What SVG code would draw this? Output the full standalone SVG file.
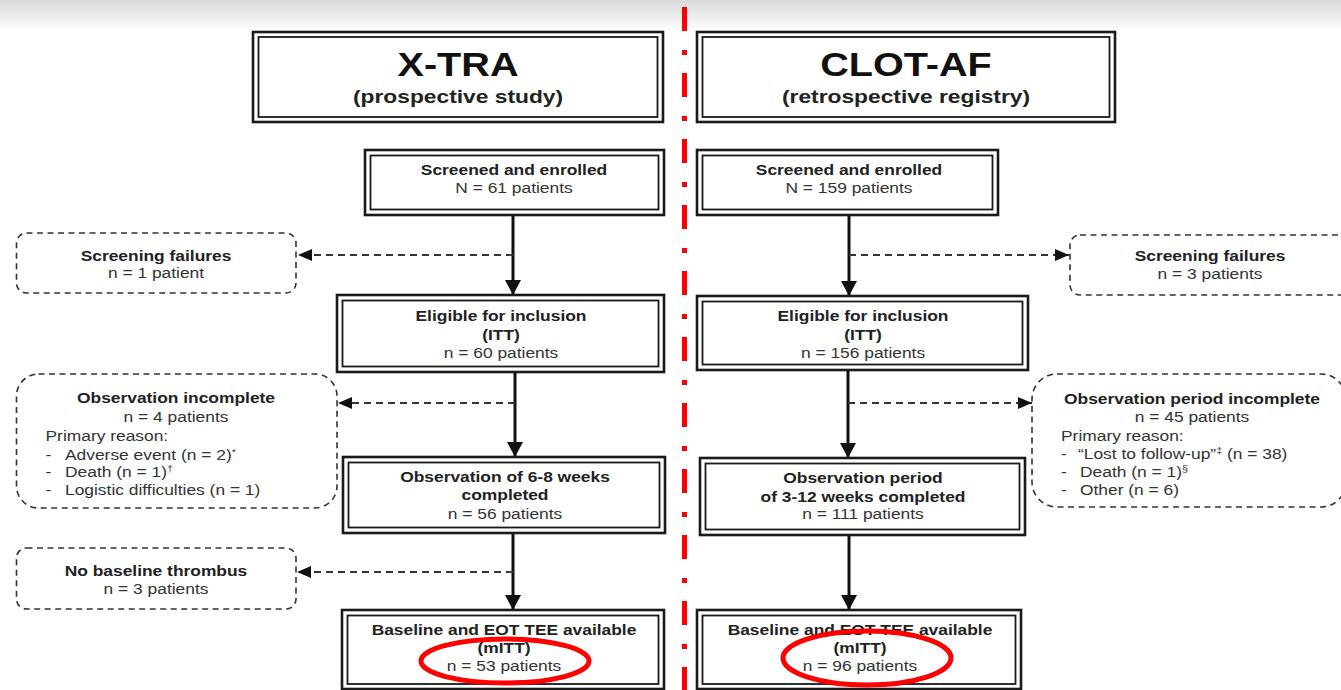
<svg xmlns="http://www.w3.org/2000/svg" width="1341" height="690" viewBox="0 0 1341 690">
<style>
.o{fill:#fff;stroke:#1a1a1a;stroke-width:2.6}
.i{fill:none;stroke:#1a1a1a;stroke-width:1.8}
.d{fill:#fff;stroke:#333;stroke-width:1.6;stroke-dasharray:6 4.5}
.s{stroke:#111;stroke-width:3;fill:none}
.dl{stroke:#333;stroke-width:1.8;fill:none;stroke-dasharray:7 5}
text{font-family:"Liberation Sans",Arial,sans-serif;fill:#1a1a1a}
.h{font-size:33px;font-weight:bold;text-anchor:middle;fill:#111}
.hs{font-size:19px;font-weight:bold;text-anchor:middle;fill:#222}
.b{font-size:14.5px;font-weight:bold;text-anchor:middle;fill:#222}
.r{font-size:14.5px;text-anchor:middle;fill:#333}
.l{font-size:14.5px;fill:#333}
.sup{font-size:9px}
.red{fill:none;stroke:#f00;stroke-width:5}
</style>
<defs>
<linearGradient id="shade" x1="0" y1="0" x2="0" y2="1">
<stop offset="0" stop-color="#d9d9d9"/>
<stop offset="1" stop-color="#ffffff"/>
</linearGradient>
<marker id="ah" markerUnits="userSpaceOnUse" markerWidth="18" markerHeight="18" refX="15" refY="8" orient="auto">
<path d="M0,0 L15,8 L0,16 Z" fill="#111"/>
</marker>
<marker id="ahd" markerUnits="userSpaceOnUse" markerWidth="16" markerHeight="14" refX="14" refY="6" orient="auto">
<path d="M0,0 L14,6 L0,12 Z" fill="#111"/>
</marker>
</defs>
<rect x="0" y="0" width="1341" height="690" fill="#fff"/>
<rect x="0" y="0" width="1341" height="32" fill="url(#shade)"/>
<line x1="684.5" y1="7" x2="684.5" y2="690" stroke="#f00" stroke-width="5" stroke-dasharray="24 19 5 18"/>

<g id="connectors">
<line class="s" x1="513" y1="215" x2="513" y2="295" marker-end="url(#ah)"/>
<line class="s" x1="515" y1="372" x2="515" y2="457" marker-end="url(#ah)"/>
<line class="s" x1="513" y1="533" x2="513" y2="610" marker-end="url(#ah)"/>
<line class="s" x1="849" y1="215" x2="849" y2="296" marker-end="url(#ah)"/>
<line class="s" x1="848" y1="370" x2="848" y2="458" marker-end="url(#ah)"/>
<line class="s" x1="849" y1="535" x2="849" y2="610" marker-end="url(#ah)"/>
<line class="dl" x1="513" y1="255" x2="298" y2="255" marker-end="url(#ahd)"/>
<line class="dl" x1="515" y1="403" x2="338" y2="403" marker-end="url(#ahd)"/>
<line class="dl" x1="513" y1="572" x2="297" y2="572" marker-end="url(#ahd)"/>
<line class="dl" x1="849" y1="255" x2="1069" y2="255" marker-end="url(#ahd)"/>
<line class="dl" x1="848" y1="403" x2="1032" y2="403" marker-end="url(#ahd)"/>
</g>

<g id="xtra-header">
<rect class="o" x="253" y="32" width="410" height="90"/>
<rect class="i" x="258.5" y="37" width="399" height="80"/>
<text class="h" transform="translate(458,76) scale(1.2 1)">X-TRA</text>
<text class="hs" transform="translate(458,103) scale(1.2 1)">(prospective study)</text>
</g>
<g id="clotaf-header">
<rect class="o" x="697" y="32" width="418" height="90"/>
<rect class="i" x="702.5" y="37" width="407" height="80"/>
<text class="h" transform="translate(906,76) scale(1.2 1)">CLOT-AF</text>
<text class="hs" transform="translate(906,103) scale(1.2 1)">(retrospective registry)</text>
</g>

<g id="x-screened">
<rect class="o" x="365" y="150" width="299" height="65"/>
<rect class="i" x="370.5" y="155.5" width="288" height="54"/>
<text class="b" transform="translate(514,175) scale(1.2 1)">Screened and enrolled</text>
<text class="r" transform="translate(514,193) scale(1.2 1)">N = 61 patients</text>
</g>
<g id="x-eligible">
<rect class="o" x="337" y="295" width="327" height="77"/>
<rect class="i" x="342.5" y="300.5" width="316" height="66"/>
<text class="b" transform="translate(501,321) scale(1.2 1)">Eligible for inclusion</text>
<text class="b" transform="translate(501,340) scale(1.2 1)">(ITT)</text>
<text class="r" transform="translate(501,358) scale(1.2 1)">n = 60 patients</text>
</g>
<g id="x-observation">
<rect class="o" x="343" y="457" width="322" height="76"/>
<rect class="i" x="348.5" y="462.5" width="311" height="65"/>
<text class="b" transform="translate(505,482) scale(1.2 1)">Observation of 6-8 weeks</text>
<text class="b" transform="translate(505,500) scale(1.2 1)">completed</text>
<text class="r" transform="translate(505,519) scale(1.2 1)">n = 56 patients</text>
</g>
<g id="x-baseline">
<rect class="o" x="342" y="610" width="322" height="79"/>
<rect class="i" x="347.5" y="615.5" width="311" height="68.5"/>
<text class="b" transform="translate(504,635) scale(1.2 1)">Baseline and EOT TEE available</text>
<text class="b" transform="translate(504,653) scale(1.2 1)">(mITT)</text>
<text class="r" transform="translate(504,671) scale(1.2 1)">n = 53 patients</text>
<ellipse class="red" cx="505" cy="661" rx="84" ry="22"/>
</g>

<g id="c-screened">
<rect class="o" x="697" y="150" width="301" height="65"/>
<rect class="i" x="702.5" y="155.5" width="290" height="54"/>
<text class="b" transform="translate(849,175) scale(1.2 1)">Screened and enrolled</text>
<text class="r" transform="translate(849,193) scale(1.2 1)">N = 159 patients</text>
</g>
<g id="c-eligible">
<rect class="o" x="697" y="296" width="331" height="74"/>
<rect class="i" x="702.5" y="301.5" width="320" height="63"/>
<text class="b" transform="translate(863,321) scale(1.2 1)">Eligible for inclusion</text>
<text class="b" transform="translate(863,340) scale(1.2 1)">(ITT)</text>
<text class="r" transform="translate(863,358) scale(1.2 1)">n = 156 patients</text>
</g>
<g id="c-observation">
<rect class="o" x="700" y="458" width="325" height="77"/>
<rect class="i" x="705.5" y="463.5" width="314" height="66"/>
<text class="b" transform="translate(863,483) scale(1.2 1)">Observation period</text>
<text class="b" transform="translate(863,502) scale(1.2 1)">of 3-12 weeks completed</text>
<text class="r" transform="translate(863,519) scale(1.2 1)">n = 111 patients</text>
</g>
<g id="c-baseline">
<rect class="o" x="697" y="610" width="324" height="79"/>
<rect class="i" x="702.5" y="615.5" width="313" height="68.5"/>
<text class="b" transform="translate(860,635) scale(1.2 1)">Baseline and EOT TEE available</text>
<text class="b" transform="translate(860,653) scale(1.2 1)">(mITT)</text>
<text class="r" transform="translate(860,671) scale(1.2 1)">n = 96 patients</text>
<ellipse class="red" cx="867" cy="658" rx="84" ry="27"/>
</g>

<g id="x-screening-failures">
<rect class="d" x="16.5" y="233" width="279.5" height="60" rx="10"/>
<text class="b" transform="translate(156,261) scale(1.2 1)">Screening failures</text>
<text class="r" transform="translate(156,278) scale(1.2 1)">n = 1 patient</text>
</g>
<g id="x-observation-incomplete">
<rect class="d" x="16.5" y="374" width="320.5" height="134" rx="22"/>
<text class="b" transform="translate(176,403) scale(1.2 1)">Observation incomplete</text>
<text class="r" transform="translate(176,422) scale(1.2 1)">n = 4 patients</text>
<text class="l" transform="translate(45.5,441) scale(1.2 1)">Primary reason:</text>
<text class="l" transform="translate(45.5,460) scale(1.2 1)">-</text>
<text class="l" transform="translate(65,460) scale(1.2 1)">Adverse event (n = 2)<tspan class="sup" dy="-5">*</tspan></text>
<text class="l" transform="translate(45.5,477) scale(1.2 1)">-</text>
<text class="l" transform="translate(65,477) scale(1.2 1)">Death (n = 1)<tspan class="sup" dy="-5">†</tspan></text>
<text class="l" transform="translate(45.5,495) scale(1.2 1)">-</text>
<text class="l" transform="translate(65,495) scale(1.2 1)">Logistic difficulties (n = 1)</text>
</g>
<g id="x-no-baseline">
<rect class="d" x="16.5" y="548" width="279.5" height="61" rx="10"/>
<text class="b" transform="translate(156,576) scale(1.2 1)">No baseline thrombus</text>
<text class="r" transform="translate(156,594) scale(1.2 1)">n = 3 patients</text>
</g>
<g id="c-screening-failures">
<rect class="d" x="1070" y="235" width="300" height="60" rx="10"/>
<text class="b" transform="translate(1210,261) scale(1.2 1)">Screening failures</text>
<text class="r" transform="translate(1210,279) scale(1.2 1)">n = 3 patients</text>
</g>
<g id="c-observation-incomplete">
<rect class="d" x="1032" y="374" width="314" height="133" rx="25"/>
<text class="b" transform="translate(1192,404) scale(1.2 1)">Observation period incomplete</text>
<text class="r" transform="translate(1192,422) scale(1.2 1)">n = 45 patients</text>
<text class="l" transform="translate(1061,441) scale(1.2 1)">Primary reason:</text>
<text class="l" transform="translate(1061,459) scale(1.2 1)">-</text>
<text class="l" transform="translate(1078,459) scale(1.2 1)">“Lost to follow-up”<tspan class="sup" dy="-5">‡</tspan><tspan dy="5"> (n = 38)</tspan></text>
<text class="l" transform="translate(1061,477) scale(1.2 1)">-</text>
<text class="l" transform="translate(1080,477) scale(1.2 1)">Death (n = 1)<tspan class="sup" dy="-5">§</tspan></text>
<text class="l" transform="translate(1061,495) scale(1.2 1)">-</text>
<text class="l" transform="translate(1080,495) scale(1.2 1)">Other (n = 6)</text>
</g>
</svg>
